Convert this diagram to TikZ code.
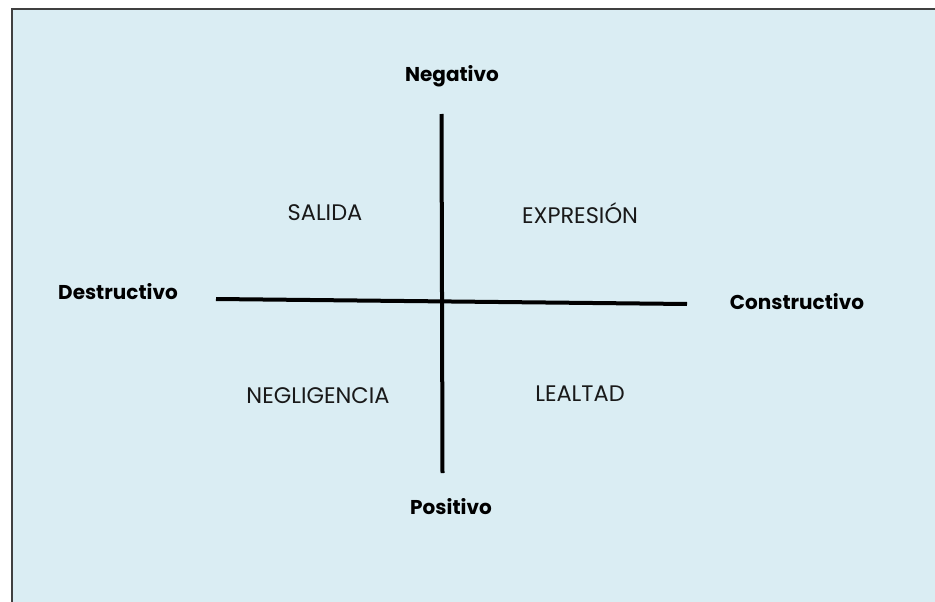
\documentclass[tikz,border=0pt]{standalone}
\usepackage{fontspec}
\setmainfont{Poppins}
\usepackage{tikz}
\usetikzlibrary{positioning,calc}
\definecolor{bgblue}{HTML}{DAEDF3}
\definecolor{framegray}{HTML}{404040}
\tikzset{quad/.style={draw=none,font=\fontsize{22.5}{26}\selectfont,text=black!90},
         axislabel/.style={draw=none,font=\fontsize{20}{24}\selectfont\bfseries}
}
\tikzstyle{axisline} = [line width=4pt,black,line cap=butt]
\begin{document}
\begin{tikzpicture}[x=1pt,y=-1pt]

\useasboundingbox (0,0) rectangle (935,602);
\begin{scope}
\clip (0,0) rectangle (935,602);
\draw[framegray,line width=2pt,fill=bgblue] (12,9) rectangle (950,620);
\end{scope}

\coordinate (top) at (441.5,114);
\coordinate (bottom) at (442.5,473);
\coordinate (left) at (216,299);
\coordinate (right) at (687,304);

\node[axislabel] (neg) at (452,76) {Negativo};
\node[axislabel] (pos) at (451,507) {Positivo};
\node[axislabel] (destr) at (118,292) {Destructivo};
\node[axislabel] (constr) at (797,302) {Constructivo};

\node[quad] (salida) at (325,213) {SALIDA};
\node[quad] (expresion) at (580,213) {EXPRESIÓN};
\node[quad] (negligencia) at (318,396) {NEGLIGENCIA};
\node[quad] (lealtad) at (580,394) {LEALTAD};

\draw[axisline] (top)--(bottom);
\draw[axisline] (left)--(right);

\end{tikzpicture}
\end{document}
